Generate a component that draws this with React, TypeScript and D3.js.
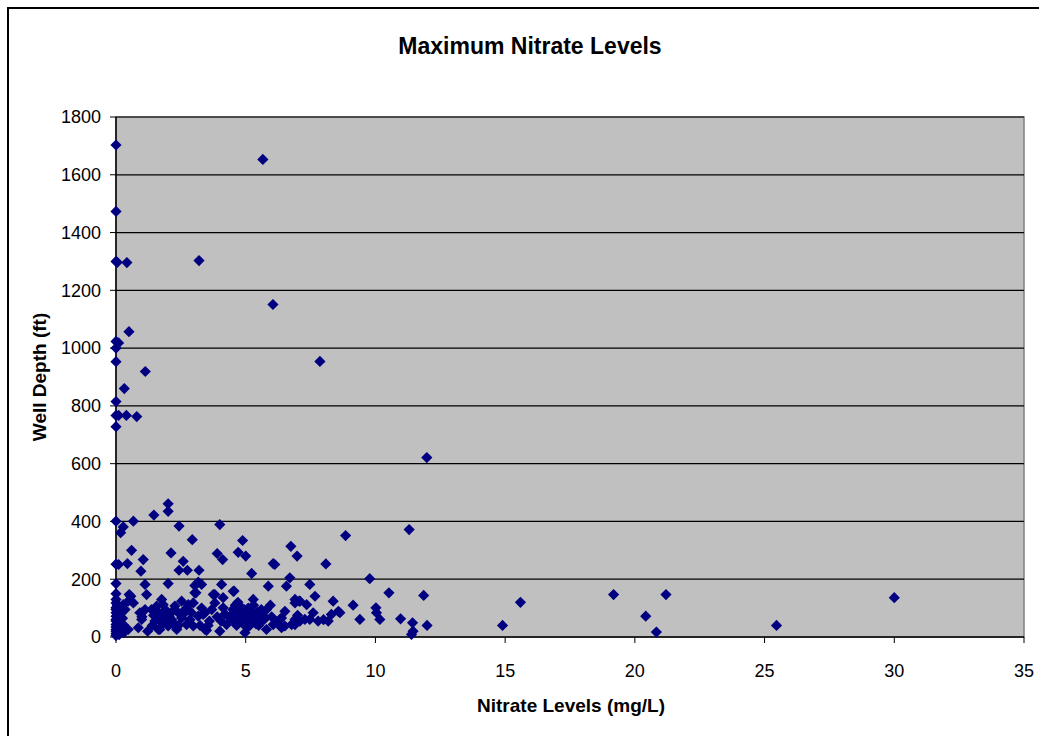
import React from "react";
import * as d3 from "d3";

const chartTitle = "Maximum Nitrate Levels";
const xTitle = "Nitrate Levels (mg/L)";
const yTitle = "Well Depth (ft)";
const xTicks = [0, 5, 10, 15, 20, 25, 30, 35];
const yTicks = [0, 200, 400, 600, 800, 1000, 1200, 1400, 1600, 1800];

// [nitrate mg/L, well depth ft]
const deepWells: [number, number][] = [
  [0, 1703], [0, 1473], [0, 1300], [0.05, 1297], [0.42, 1296], [3.2, 1303],
  [5.66, 1653], [6.05, 1151], [7.86, 954], [0.5, 1057], [0, 1023], [0.1, 1018],
  [0, 1000], [0, 953], [1.13, 919], [0.32, 860], [0, 815], [0, 767], [0.1, 767],
  [0.4, 767], [0.8, 763], [0, 728], [11.98, 621],
];

const midWells: [number, number][] = [
  [11.3, 372], [2.01, 461], [2.01, 435], [1.46, 422], [0, 401], [0.67, 401],
  [4.0, 389], [2.43, 384], [0.28, 381], [0.18, 361], [8.85, 351], [2.94, 337],
  [4.88, 334], [6.74, 314], [0.6, 300], [2.12, 291], [3.9, 289], [4.11, 268],
  [4.71, 293], [5.0, 280], [6.98, 280], [1.05, 268], [2.59, 262], [0, 252],
  [0.1, 251], [0.44, 254], [6.06, 254], [6.12, 251], [8.09, 253], [2.43, 231],
  [2.75, 231], [3.2, 231], [0.96, 228], [5.23, 220], [6.7, 205], [9.78, 202],
];

const shallowWells: [number, number][] = [
  [0, 185], [0, 150], [0, 130], [0, 118], [0, 101], [0, 95], [0, 84], [0, 72],
  [0, 61], [0, 55], [0, 43], [0, 35], [0, 26], [0, 20], [0, 12], [0, 5],
  [0.09, 72], [0.15, 98], [0.28, 112], [0.28, 43], [0.15, 26], [0.47, 26],
  [0.05, 110], [0.1, 60], [0.2, 85], [0.3, 15], [0.12, 8], [0.25, 65], [0.35, 95],
  [0.51, 147], [0.57, 141], [0.47, 124], [0.67, 118], [0.86, 32], [0.92, 84],
  [0.99, 61], [1.12, 95], [1.22, 20], [1.12, 182], [1.18, 147], [0.99, 84], [1.0, 70],
  [1.37, 95], [1.57, 107], [1.76, 130], [1.82, 112], [1.69, 66], [1.89, 78],
  [1.63, 26], [1.69, 26], [2.14, 61], [2.01, 38], [2.34, 26], [2.34, 32],
  [2.4, 84], [2.53, 66], [2.66, 95], [2.79, 112], [2.72, 43], [2.98, 38],
  [2.27, 107], [2.53, 124], [2.98, 118], [2.01, 185], [1.5, 55], [1.45, 75],
  [1.8, 45], [1.9, 95], [2.05, 70], [2.2, 50], [2.6, 80], [2.85, 60], [1.6, 88],
  [1.75, 52], [2.2, 90], [1.4, 40], [1.55, 70], [1.95, 55], [2.4, 40], [2.9, 85],
  [3.04, 178], [3.3, 182], [3.04, 153], [3.17, 190], [3.08, 153], [3.43, 26],
  [3.49, 23], [3.24, 40], [3.17, 72], [3.43, 84], [3.69, 95], [3.81, 118],
  [3.36, 78], [3.81, 147], [4.13, 136], [4.07, 182], [4.13, 101], [4.0, 20],
  [4.39, 66], [4.26, 43], [3.75, 147], [4.55, 159], [3.6, 55], [3.9, 70],
  [4.2, 80], [3.3, 100], [3.55, 40], [4.05, 55],
  [4.5, 95], [4.6, 110], [4.7, 85], [4.75, 70], [4.8, 60], [4.85, 100], [4.9, 80],
  [4.95, 95], [5.0, 65], [5.0, 50], [5.05, 85], [5.1, 100], [5.15, 70], [5.2, 55],
  [5.25, 90], [5.3, 75], [5.35, 60], [5.4, 45], [5.45, 85], [5.5, 70], [5.55, 55],
  [5.6, 95], [5.65, 80], [4.55, 55], [4.65, 40], [4.7, 120], [4.9, 45], [5.1, 35],
  [5.3, 110], [5.5, 40], [5.7, 60], [4.45, 75], [4.97, 15], [5.8, 26], [5.8, 95],
  [5.74, 66], [5.29, 130], [4.52, 158], [5.87, 176], [4.8, 90], [5.2, 80],
  [6.38, 66], [6.32, 61], [6.51, 89], [6.06, 43], [6.38, 32], [6.51, 38],
  [6.77, 43], [6.9, 61], [7.28, 61], [6.9, 118], [7.09, 124], [7.35, 112],
  [6.9, 130], [7.06, 124], [8.37, 124], [8.57, 89], [8.63, 84], [7.6, 84],
  [7.79, 55], [8.18, 55], [8.3, 78], [7.47, 61], [7.09, 55], [6.9, 43],
  [6.57, 176], [7.47, 182], [7.67, 141], [6.0, 70], [6.2, 50], [5.95, 110],
  [7.0, 75], [8.0, 60],
];

const highNitrate: [number, number][] = [
  [9.14, 110], [10.02, 101], [10.04, 84], [10.17, 61], [9.4, 61], [10.97, 63],
  [11.43, 49], [11.45, 20], [11.39, 9], [11.99, 40], [10.52, 153], [11.86, 144],
  [14.9, 40], [15.59, 120], [19.18, 147], [21.2, 147], [20.42, 72], [20.83, 17],
  [25.46, 40], [30.0, 136],
];

const allWells = [...deepWells, ...midWells, ...shallowWells, ...highNitrate];

const W = 1039;
const H = 736;
const plot = { left: 116, right: 1024, top: 117, bottom: 637 };
const font = "'Liberation Sans', Arial, sans-serif";

const App = () => {
  const x = d3.scaleLinear().domain([0, 35]).range([plot.left, plot.right]);
  const y = d3.scaleLinear().domain([0, 1800]).range([plot.bottom, plot.top]);
  const diamond = d3.symbol().type(d3.symbolDiamond2).size(80)();

  return (
    <svg
      width={W}
      height={H}
      style={{ position: "absolute", left: 0, top: 0, background: "#fff" }}
    >
      <rect x={8} y={8} width={1100} height={800} fill="#fff" stroke="#000" strokeWidth={2} />

      <text x={530} y={54} textAnchor="middle" fontFamily={font} fontWeight="bold" fontSize={23}>
        {chartTitle}
      </text>

      <rect
        x={plot.left}
        y={plot.top}
        width={plot.right - plot.left}
        height={plot.bottom - plot.top}
        fill="#c0c0c0"
        stroke="#808080"
        strokeWidth={1.5}
      />

      {yTicks.slice(1).map((t) => (
        <line key={"g" + t} x1={plot.left} x2={plot.right} y1={y(t)} y2={y(t)} stroke="#000" strokeWidth={1.2} />
      ))}

      <line x1={plot.left} x2={plot.right} y1={plot.bottom} y2={plot.bottom} stroke="#000" strokeWidth={1.5} />
      <line x1={plot.left} x2={plot.left} y1={plot.top} y2={plot.bottom} stroke="#000" strokeWidth={1.5} />

      {yTicks.map((t) => (
        <g key={"y" + t}>
          <line x1={plot.left - 6} x2={plot.left} y1={y(t)} y2={y(t)} stroke="#000" />
          <text x={101} y={y(t)} dy="0.35em" textAnchor="end" fontFamily={font} fontSize={18}>
            {t}
          </text>
        </g>
      ))}

      {xTicks.map((t) => (
        <g key={"x" + t}>
          <line x1={x(t)} x2={x(t)} y1={plot.bottom} y2={plot.bottom + 6} stroke="#000" />
          <text x={x(t)} y={677} textAnchor="middle" fontFamily={font} fontSize={18}>
            {t}
          </text>
        </g>
      ))}

      {allWells.map((d, i) => (
        <path key={i} d={diamond} transform={`translate(${x(d[0])},${y(d[1])})`} fill="#000080" />
      ))}

      <text x={571} y={712} textAnchor="middle" fontFamily={font} fontWeight="bold" fontSize={19}>
        {xTitle}
      </text>
      <text
        transform={`translate(46,${(plot.top + plot.bottom) / 2}) rotate(-90)`}
        textAnchor="middle"
        fontFamily={font}
        fontWeight="bold"
        fontSize={19}
      >
        {yTitle}
      </text>
    </svg>
  );
};

export default App;
